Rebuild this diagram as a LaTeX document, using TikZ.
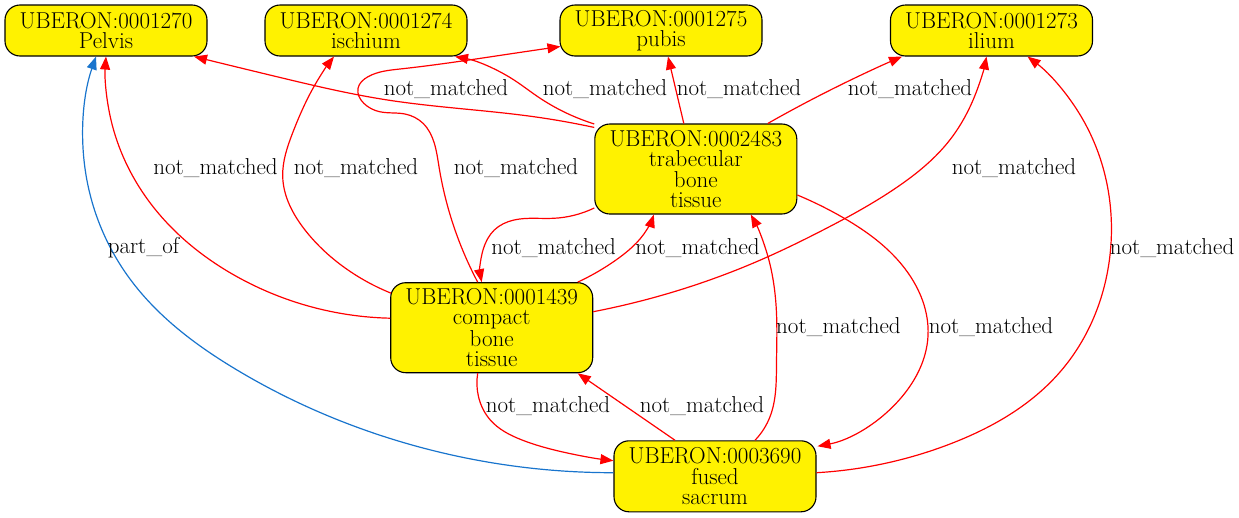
\documentclass[tikz,border=0pt]{standalone}
\usetikzlibrary{arrows.meta,calc,hobby}
\newcommand\dgfont{\fontsize{23pt}{20.3pt}\selectfont}
\definecolor{partblue}{RGB}{24,116,205}
\tikzset{
  box/.style={draw=black, line width=1.1pt, fill=yellow, rounded corners=15pt,
    minimum width=202pt, align=center, inner sep=0pt, font=\dgfont},
  htwo/.style={minimum height=51pt},
  hthree/.style={minimum height=71pt},
  hfour/.style={minimum height=90pt},
  rel/.style={red, line width=1.2pt, -{Triangle[length=13pt,width=10pt]}},
  partof/.style={rel, partblue},
  lbl/.style={font=\dgfont, inner sep=0pt},
  hb/.style={use Hobby shortcut}
}
\begin{document}
\begin{tikzpicture}[x=1pt,y=-1pt]
\useasboundingbox (0,0) rectangle (1239,517);
% nodes
\node[box,htwo] (P) at (106,30.5) {UBERON:0001270\\Pelvis};
\node[box,htwo] (I) at (366,30.5) {UBERON:0001274\\ischium};
\node[box,htwo] (Pu) at (661,30.5) {UBERON:0001275\\pubis};
\node[box,htwo] (Il) at (991.5,30.5) {UBERON:0001273\\ilium};
\node[box,hfour] (T) at (695.8,169) {UBERON:0002483\\trabecular\\bone\\tissue};
\node[box,hfour] (C) at (491.7,327.7) {UBERON:0001439\\compact\\bone\\tissue};
\node[box,hthree] (F) at (715,476.3) {UBERON:0003690\\fused\\sacrum};
% end points
\coordinate (e1s) at ($(F.west)+(0,-3.6)$);
\coordinate (e1e) at ($(P.south)+(-10,0)$);
\coordinate (e2s) at ($(C.west)+(0,-9.5)$);
\coordinate (e2e) at (P.south);
\coordinate (e3s) at ($(C.west)+(1,-34.5)$);
\coordinate (e3e) at ($(I.south)+(-32,0)$);
\coordinate (e4s) at ($(C.north)+(-14,0)$);
\coordinate (e4e) at ($(Pu.west)+(1,16)$);
\coordinate (e5s) at ($(T.north west)+(0,4)$);
\coordinate (e5e) at ($(P.south)+(88,0)$);
\coordinate (e6s) at ($(T.north west)+(0,0.5)$);
\coordinate (e6e) at ($(I.south)+(89,0)$);
\coordinate (e7s) at ($(T.north)+(-12,0)$);
\coordinate (e7e) at ($(Pu.south)+(7,0)$);
\coordinate (e8s) at ($(T.north)+(72,0)$);
\coordinate (e8e) at ($(Il.south)+(-89.5,0)$);
\coordinate (e9s) at ($(T.west)+(0,39)$);
\coordinate (e9e) at ($(C.north)+(-10,0)$);
\coordinate (e10s) at ($(C.north)+(86,0)$);
\coordinate (e10e) at ($(T.south)+(-42,0)$);
\coordinate (e11s) at ($(C.east)+(0,-16)$);
\coordinate (e11e) at ($(Il.south)+(-5,0)$);
\coordinate (e12s) at ($(T.east)+(0,26)$);
\coordinate (e12e) at ($(F.north east)+(1,6)$);
\coordinate (e13s) at ($(F.north)+(40,0)$);
\coordinate (e13e) at ($(T.south)+(55,0)$);
\coordinate (e14s) at ($(F.north)+(-40,0)$);
\coordinate (e14e) at ($(C.south)+(86,0)$);
\coordinate (e15s) at ($(C.south)+(-14,0)$);
\coordinate (e15e) at ($(F.west)+(0,-15.6)$);
\coordinate (e16s) at ($(F.east)+(0,-3.6)$);
\coordinate (e16e) at ($(Il.south)+(36,0)$);
% edges
\draw[partof,hb] (e1s) .. (395,440) .. (237,370) .. (130,279) .. (86,175) .. (e1e);
\draw[rel,hb] (e2s) .. (237,276.7) .. (148,200) .. (111,120) .. (e2e);
\draw[rel,hb] (e3s) .. (348,270) .. (305,230) .. (282.7,176.7) .. (292.6,133) .. (316,83) .. (e3e);
\draw[rel,hb] (e4s) .. (439,166.7) .. (423,123.3) .. (405,114) .. (379.6,111.7) .. (363.8,103.3) .. (358,88.3) .. (368,76.7) .. (400,69) .. (514,53.3) .. (e4e);
\draw[rel,hb] (e5s) .. (533.8,116.7) .. (474.5,110) .. (387.5,100) .. (276.8,76.7) .. (e5e);
\draw[rel,hb] (e6s) .. (537.8,96.7) .. (514,80) .. (e6e);
\draw[rel] (e7s) -- (e7e);
\draw[rel,hb] (e8s) .. (837,86.7) .. (e8e);
\draw[rel,hb] (e9s) .. (553.6,218.3) .. (514,220) .. (494.3,230) .. (483,250) .. (e9e);
\draw[rel,hb] (e10s) .. (616,260) .. (646.6,230) .. (e10e);
\draw[rel,hb] (e11s) .. (690,286.7) .. (757,261.5) .. (826,228.5) .. (897.8,186.7) .. (949.8,140) .. (975.8,93.3) .. (e11e);
\draw[rel,hb] (e12s) .. (841.5,216.7) .. (897.8,260) .. (928,336) .. (902,396.7) .. (e12e);
\draw[rel,hb] (e13s) .. (770,416.7) .. (776.5,363.3) .. (776.5,313.3) .. (768,256.7) .. (e13e);
\draw[rel] (e14s) -- (e14e);
\draw[rel,hb] (e15s) .. (478.5,396.7) .. (490.3,420) .. (522,440) .. (561.5,451.7) .. (e15e);
\draw[rel,hb] (e16s) .. (950,444) .. (1060,372) .. (1110,255) .. (1082,118) .. (e16e);
% labels
\node[lbl] (l5) at (446,89) {not\_matched};
\node[lbl] (l6) at (605,89) {not\_matched};
\node[lbl] (l7) at (739,89) {not\_matched};
\node[lbl] (l8) at (910,89) {not\_matched};
\node[lbl] (l2) at (215.5,168) {not\_matched};
\node[lbl] (l3) at (356,168) {not\_matched};
\node[lbl] (l4) at (516,168) {not\_matched};
\node[lbl] (l11) at (1014,168) {not\_matched};
\node[lbl] (l1) at (143.5,248) {part\_of};
\node[lbl] (l9) at (553.6,248) {not\_matched};
\node[lbl] (l10) at (697.5,248) {not\_matched};
\node[lbl] (l16) at (1172,248) {not\_matched};
\node[lbl] (l13) at (838.4,327) {not\_matched};
\node[lbl] (l12) at (991,327) {not\_matched};
\node[lbl] (l15) at (548,406) {not\_matched};
\node[lbl] (l14) at (702,406) {not\_matched};
\end{tikzpicture}
\end{document}
